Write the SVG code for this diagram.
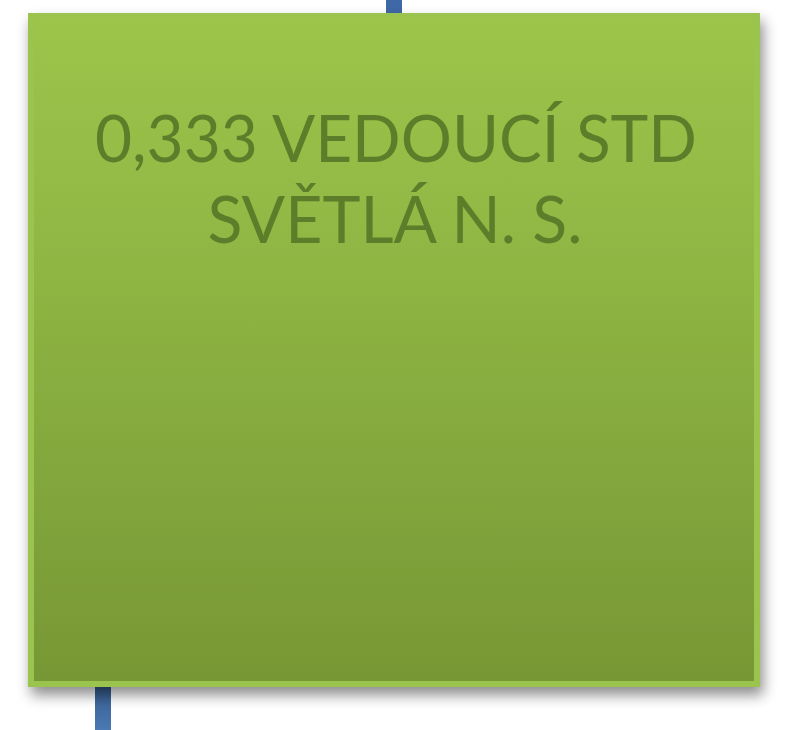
<svg xmlns="http://www.w3.org/2000/svg" width="795" height="730" viewBox="0 0 795 730">
<style>
.lbl{font-family:Lato,"Open Sans","Liberation Sans",sans-serif;font-size:66px;fill:#5e7d2a;text-anchor:middle}
</style>
<defs>
<linearGradient id="gFill" x1="0" y1="0" x2="0" y2="1">
<stop offset="0" stop-color="#9cc54a"/>
<stop offset="0.3" stop-color="#92b945"/>
<stop offset="1" stop-color="#779735"/>
</linearGradient>
<linearGradient id="gConn" x1="0" y1="0" x2="0" y2="1">
<stop offset="0" stop-color="#355a8a"/>
<stop offset="1" stop-color="#4a79b4"/>
</linearGradient>
<filter id="sh" x="-10%" y="-10%" width="125%" height="125%">
<feDropShadow dx="3" dy="8" stdDeviation="7" flood-color="#000" flood-opacity="0.45"/>
</filter>
</defs>
<rect width="795" height="730" fill="#ffffff"/>
<g id="connectors">
<rect x="386" y="0" width="16" height="16" fill="#3f68a6"/>
<rect x="95" y="684" width="16" height="46" fill="url(#gConn)"/>
</g>
<g id="node1">
<rect x="31" y="16" width="726" height="668" fill="url(#gFill)" stroke="#9ac44e" stroke-width="6" filter="url(#sh)"/>
<text class="lbl" x="396" y="162" textLength="602" lengthAdjust="spacingAndGlyphs">0,333 VEDOUCÍ STD</text>
<text class="lbl" x="395" y="243" textLength="375" lengthAdjust="spacingAndGlyphs">SVĚTLÁ N. S.</text>
</g>
</svg>
